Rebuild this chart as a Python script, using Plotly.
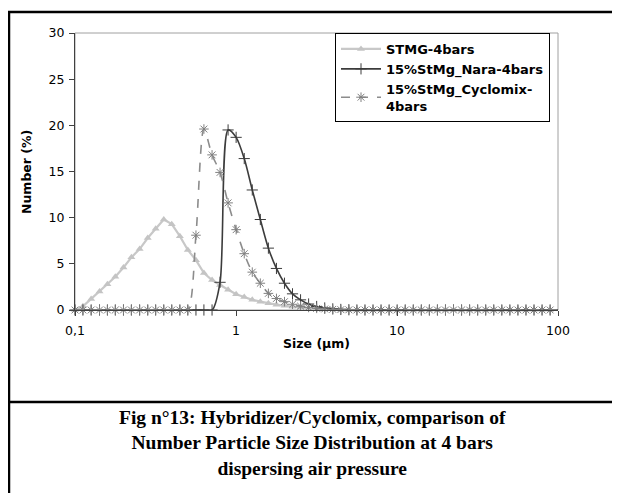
import plotly.graph_objects as go

# Particle size bins (µm)
sizes = [0.100, 0.112, 0.126, 0.142, 0.159, 0.178, 0.200, 0.224, 0.252, 0.283,
         0.317, 0.356, 0.399, 0.448, 0.502, 0.564, 0.632, 0.710, 0.796, 0.893,
         1.002, 1.125, 1.262, 1.416, 1.589, 1.783, 2.000, 2.244, 2.518, 2.825,
         3.170, 3.557, 3.991, 4.477, 5.024, 5.637, 6.325, 7.096, 7.962, 8.934,
         10.024, 11.247, 12.619, 14.159, 15.887, 17.825, 20.000, 22.440, 25.179, 28.251,
         31.698, 35.566, 39.905, 44.774, 50.238, 56.368, 63.246, 70.963, 79.621, 89.337,
         100.237]

stmg = [0.0, 0.4, 1.2, 2.0, 2.8, 3.6, 4.6, 5.7, 6.6, 7.8,
        8.8, 9.8, 9.3, 8.0, 6.5, 5.4, 4.0, 3.25, 2.7, 2.2,
        1.7, 1.4, 1.1, 0.9, 0.72, 0.58, 0.46, 0.36, 0.28, 0.21,
        0.15, 0.11, 0.07, 0.04, 0.02, 0, 0, 0, 0, 0,
        0, 0, 0, 0, 0, 0, 0, 0, 0, 0,
        0, 0, 0, 0, 0, 0, 0, 0, 0, 0,
        0]

nara = [0, 0, 0, 0, 0, 0, 0, 0, 0, 0,
        0, 0, 0, 0, 0, 0, 0, 0, 3.0, 19.5,
        18.7, 16.4, 13.0, 9.8, 6.7, 4.5, 2.9, 1.75, 1.1, 0.65,
        0.38, 0.22, 0.12, 0.06, 0.03, 0, 0, 0, 0, 0,
        0, 0, 0, 0, 0, 0, 0, 0, 0, 0,
        0, 0, 0, 0, 0, 0, 0, 0, 0, 0,
        0]

cyclomix = [0, 0, 0, 0, 0, 0, 0, 0, 0, 0,
            0, 0, 0, 0, 0, 8.1, 19.6, 16.8, 14.9, 11.6,
            8.7, 6.1, 4.1, 2.9, 1.8, 1.25, 0.9, 0.62, 0.42, 0.28,
            0.18, 0.11, 0.07, 0.04, 0.02, 0, 0, 0, 0, 0,
            0, 0, 0, 0, 0, 0, 0, 0, 0, 0,
            0, 0, 0, 0, 0, 0, 0, 0, 0, 0,
            0]

names = ["STMG-4bars", "15%StMg_Nara-4bars", "15%StMg_Cyclomix-<br>4bars"]
x_tickvals = [0.1, 1, 10, 100]
x_ticktext = ["0,1", "1", "10", "100"]
y_tickvals = [0, 5, 10, 15, 20, 25, 30]

caption = ("Fig n°13: Hybridizer/Cyclomix, comparison of<br>"
           "Number Particle Size Distribution at 4 bars<br>"
           "dispersing air pressure")

# page offset of the figure (browser body margin)
OFF = 8
W, H = 620 - OFF, 493 - OFF
# plot area in screen pixels
Ls, Rs, Ts, Bs = 75, 558, 33, 310
L, R, T, B = Ls - OFF, Rs - OFF, Ts - OFF, Bs - OFF


def px(xs):
    return (xs - OFF - L) / (R - L)


def py(ys):
    return (B - (ys - OFF)) / (B - T)


sans = "DejaVu Sans"

fig = go.Figure()
fig.add_trace(go.Scatter(
    x=sizes, y=stmg, name=names[0], mode="lines+markers", legendgroup="a",
    line=dict(color="#c8c8c8", width=2.2),
    marker=dict(symbol="triangle-up", size=7, color="#c4c4c4"),
    cliponaxis=False))
fig.add_trace(go.Scatter(
    x=sizes, y=nara, name=names[1], mode="lines+markers", legendgroup="b",
    line=dict(color="#3c3c3c", width=1.6, shape="spline", smoothing=0.8),
    marker=dict(symbol="cross-thin", size=8, color="#3c3c3c",
                line=dict(color="#3c3c3c", width=1)),
    cliponaxis=False))
fig.add_trace(go.Scatter(
    x=sizes, y=cyclomix, name=names[2], mode="lines+markers", legendgroup="c",
    line=dict(color="#8c8c8c", width=1.6, dash="dash", shape="spline", smoothing=0.8),
    marker=dict(symbol="asterisk-open", size=8, color="#808080",
                line=dict(color="#808080", width=1)),
    cliponaxis=False))

shapes = [
    # plot-area border (top/right)
    dict(type="rect", xref="paper", yref="paper", x0=0, x1=1, y0=0, y1=1,
         line=dict(color="#a0a0a0", width=1), layer="below"),
    # outer table frame
    dict(type="line", xref="paper", yref="paper", x0=px(8), x1=px(630),
         y0=py(12), y1=py(12), line=dict(color="black", width=2.5)),
    dict(type="line", xref="paper", yref="paper", x0=px(9), x1=px(9),
         y0=py(11), y1=py(500), line=dict(color="black", width=2.5)),
    dict(type="line", xref="paper", yref="paper", x0=px(8), x1=px(630),
         y0=py(402), y1=py(402), line=dict(color="black", width=2.5)),
]

annotations = [
    dict(text="<b>Size (µm)</b>", xref="paper", yref="paper",
         x=px(316), y=py(343), xanchor="center", yanchor="middle", showarrow=False,
         font=dict(family=sans, size=12.5, color="black")),
    dict(text="<b>Number (%)</b>", xref="paper", yref="paper",
         x=px(26), y=py(172), xanchor="center", yanchor="middle", showarrow=False,
         textangle=-90, font=dict(family=sans, size=12.5, color="black")),
    dict(text="<b>" + caption + "</b>", xref="paper", yref="paper",
         x=px(312), y=py(443), xanchor="center", yanchor="middle", showarrow=False,
         align="center", font=dict(family="Liberation Serif", size=19.5, color="black")),
]

fig.update_layout(
    width=W, height=H,
    margin=dict(l=L, r=W - R, t=T, b=H - B, pad=0),
    paper_bgcolor="white", plot_bgcolor="white",
    showlegend=True,
    legend=dict(x=px(335), y=1.0, xanchor="left", yanchor="top",
                bgcolor="white", bordercolor="black", borderwidth=1,
                font=dict(family=sans, size=13, color="black", weight="bold"),
                itemwidth=40, tracegroupgap=6, traceorder="normal"),
    shapes=shapes, annotations=annotations,
    xaxis=dict(type="log", range=[-1, 2], tickvals=x_tickvals, ticktext=x_ticktext,
               showgrid=False, zeroline=False, showline=True, linecolor="#404040",
               linewidth=1, ticks="outside", ticklen=5, tickcolor="#404040",
               ticklabelstandoff=4,
               tickfont=dict(family=sans, size=12.5, color="black")),
    yaxis=dict(range=[0, 30], tickvals=y_tickvals, showgrid=False, zeroline=False,
               showline=True, linecolor="#404040", linewidth=1, ticks="outside",
               ticklen=5, tickcolor="#404040", ticklabelstandoff=2,
               tickfont=dict(family=sans, size=12.5, color="black")),
)

fig.write_html("out.html")
